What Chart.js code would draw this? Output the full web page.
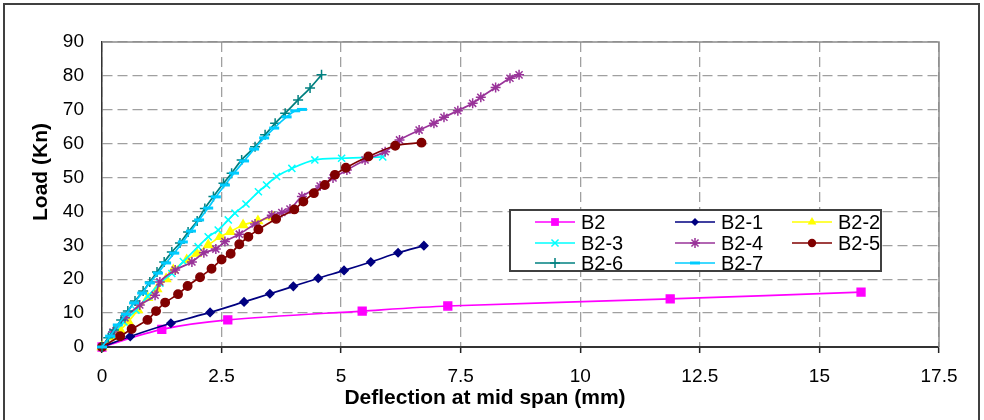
<!DOCTYPE html>
<html>
<head>
<meta charset="utf-8">
<script src="https://cdn.jsdelivr.net/npm/chart.js@4"></script>
<style>
  html, body { margin: 0; padding: 0; background: #fff; }
  #wrap { position: relative; width: 984px; height: 420px; }
</style>
</head>
<body>
<div id="wrap"><canvas id="loadChart" width="984" height="420"></canvas></div>
<script>
// axis ticks
const xTicks = [0, 2.5, 5, 7.5, 10, 12.5, 15, 17.5];
const yTicks = [0, 10, 20, 30, 40, 50, 60, 70, 80, 90];

// deflection (mm) / load (kN) per beam
const b2Defl = [0, 1.25, 2.63, 5.44, 7.23, 11.88, 15.87];
const b2Load = [0, 5.2, 8.0, 10.6, 12.1, 14.2, 16.2];

const b21Defl = [0, 0.59, 1.44, 2.26, 2.97, 3.51, 4.00, 4.52, 5.06, 5.62, 6.19, 6.73];
const b21Load = [0, 3.1, 7.0, 10.2, 13.3, 15.7, 17.9, 20.3, 22.6, 25.1, 27.8, 29.9];

const b22Defl = [0, 0.21, 0.38, 0.55, 0.75, 0.96, 1.15, 1.34, 1.49, 1.77, 1.98, 2.22, 2.47, 2.68, 2.95, 3.26, 3.58];
const b22Load = [0, 3.0, 5.0, 7.5, 10.9, 14.5, 17.1, 20.1, 22.7, 25.7, 27.6, 30.1, 32.5, 34.0, 36.0, 37.2, 38.3];

const b23Defl = [0, 0.21, 0.46, 0.71, 0.96, 1.21, 1.46, 1.70, 2.01, 2.22, 2.43, 2.64, 2.78, 3.01, 3.27, 3.44, 3.65, 3.97, 4.45, 5.01, 5.87];
const b23Load = [0, 3.5, 7.4, 10.9, 15.0, 18.8, 21.7, 25.2, 29.6, 32.5, 34.5, 37.5, 39.5, 42.2, 45.8, 47.8, 50.3, 52.7, 55.2, 55.7, 56.1];

const b24Defl = [0, 0.23, 0.48, 0.79, 1.11, 1.21, 1.53, 1.88, 2.13, 2.38, 2.57, 2.87, 3.20, 3.55, 3.76, 3.93, 4.18, 4.56, 4.83, 5.12, 5.50, 5.92, 6.22, 6.63, 6.94, 7.15, 7.44, 7.75, 7.92, 8.23, 8.53, 8.72];
const b24Load = [0, 4.4, 8.6, 12.4, 15.3, 19.2, 22.7, 25.1, 27.8, 28.9, 31.1, 33.3, 36.3, 38.9, 39.7, 40.7, 44.4, 47.5, 49.9, 52.2, 55.2, 57.6, 61.1, 64.0, 66.0, 67.8, 69.7, 71.9, 73.7, 76.6, 79.3, 80.3];

const b25Defl = [0, 0.38, 0.62, 0.95, 1.13, 1.32, 1.59, 1.79, 2.05, 2.29, 2.50, 2.69, 2.87, 3.06, 3.27, 3.64, 4.02, 4.21, 4.43, 4.66, 4.87, 5.10, 5.57, 6.13, 6.68];
const b25Load = [0, 3.2, 5.3, 8.0, 10.6, 13.1, 15.6, 18.0, 20.6, 23.1, 25.8, 27.5, 30.3, 32.5, 34.7, 37.8, 40.6, 42.9, 45.4, 47.8, 50.8, 52.9, 56.2, 59.4, 60.3];

const b26Defl = [0, 0.13, 0.25, 0.40, 0.54, 0.69, 0.86, 1.00, 1.15, 1.30, 1.46, 1.63, 1.80, 1.99, 2.15, 2.33, 2.54, 2.71, 2.92, 3.20, 3.41, 3.62, 3.83, 4.10, 4.35, 4.59];
const b26Load = [0, 2.7, 5.0, 8.0, 10.6, 13.6, 16.5, 19.2, 22.1, 25.1, 28.0, 30.7, 33.9, 37.2, 40.9, 44.4, 48.3, 51.3, 55.2, 59.1, 62.6, 66.0, 69.0, 72.9, 76.4, 80.3];

const b27Defl = [0, 0.17, 0.33, 0.50, 0.67, 0.84, 1.00, 1.17, 1.34, 1.51, 1.69, 1.86, 2.03, 2.22, 2.38, 2.57, 2.76, 2.97, 3.18, 3.39, 3.60, 3.86, 4.04, 4.18];
const b27Load = [0, 3.2, 6.5, 9.7, 13.0, 15.9, 18.9, 21.8, 24.8, 27.7, 31.0, 34.2, 37.5, 41.0, 44.3, 47.8, 51.3, 54.9, 58.4, 61.7, 64.6, 67.9, 69.7, 70.1];

const FONT = "'Liberation Sans', Arial, sans-serif";

function toPoints(xs, ys) {
  return xs.map((x, i) => ({ x: x, y: ys[i] }));
}

const seriesList = [
  { label: 'B2',   x: b2Defl,  y: b2Load,  color: '#FF00FF', style: 'rect',     radius: 5.5 },
  { label: 'B2-1', x: b21Defl, y: b21Load, color: '#000080', style: 'rectRot',  radius: 4 },
  { label: 'B2-2', x: b22Defl, y: b22Load, color: '#FFFF00', style: 'triangle', radius: 5 },
  { label: 'B2-3', x: b23Defl, y: b23Load, color: '#00FFFF', style: 'crossRot', radius: 5 },
  { label: 'B2-4', x: b24Defl, y: b24Load, color: '#993399', style: 'star',     radius: 5 },
  { label: 'B2-5', x: b25Defl, y: b25Load, color: '#800000', style: 'circle',   radius: 4.2 },
  { label: 'B2-6', x: b26Defl, y: b26Load, color: '#008080', style: 'cross',    radius: 5 },
  { label: 'B2-7', x: b27Defl, y: b27Load, color: '#00CCFF', style: 'line',     radius: 5 }
];

const datasets = seriesList.map((s, i) => ({
  label: s.label,
  data: toPoints(s.x, s.y),
  showLine: true,
  tension: 0.3,
  borderColor: s.color,
  backgroundColor: s.color,
  borderWidth: 1.7,
  pointStyle: s.style,
  pointRadius: s.radius,
  pointBorderColor: s.color,
  pointBackgroundColor: s.color,
  pointBorderWidth: s.style === 'line' ? 3 : 1.5,
  clip: false,
  order: seriesList.length - i
}));

// draws one marker shape, used by the legend box
function drawMarker(ctx, style, r, x, y, color) {
  ctx.save();
  ctx.fillStyle = color;
  ctx.strokeStyle = color;
  ctx.lineWidth = style === 'line' ? 3 : 1.5;
  ctx.beginPath();
  if (style === 'rect') {
    const s = r * Math.SQRT1_2;
    ctx.rect(x - s, y - s, 2 * s, 2 * s);
    ctx.fill();
  } else if (style === 'rectRot') {
    ctx.moveTo(x, y - r); ctx.lineTo(x + r, y); ctx.lineTo(x, y + r); ctx.lineTo(x - r, y);
    ctx.closePath(); ctx.fill();
  } else if (style === 'triangle') {
    ctx.moveTo(x, y - r); ctx.lineTo(x + r * 0.87, y + r * 0.5); ctx.lineTo(x - r * 0.87, y + r * 0.5);
    ctx.closePath(); ctx.fill();
  } else if (style === 'circle') {
    ctx.arc(x, y, r, 0, Math.PI * 2); ctx.fill();
  } else if (style === 'crossRot' || style === 'star') {
    const d = r * Math.SQRT1_2;
    ctx.moveTo(x - d, y - d); ctx.lineTo(x + d, y + d);
    ctx.moveTo(x + d, y - d); ctx.lineTo(x - d, y + d);
    if (style === 'star') { ctx.moveTo(x, y - r); ctx.lineTo(x, y + r); ctx.moveTo(x - r, y); ctx.lineTo(x + r, y); }
    ctx.stroke();
  } else if (style === 'cross') {
    ctx.moveTo(x, y - r); ctx.lineTo(x, y + r); ctx.moveTo(x - r, y); ctx.lineTo(x + r, y);
    ctx.stroke();
  } else if (style === 'line') {
    ctx.moveTo(x - r, y); ctx.lineTo(x + r, y); ctx.stroke();
  }
  ctx.restore();
}

const framePlugin = {
  id: 'frame',
  beforeDraw(chart) {
    const ctx = chart.ctx;
    ctx.save();
    ctx.fillStyle = '#fff';
    ctx.fillRect(0, 0, chart.width, chart.height);
    ctx.strokeStyle = '#404040';
    ctx.lineWidth = 2;
    ctx.strokeRect(4, 4, 975, 440);
    ctx.restore();
  },
  beforeDatasetsDraw(chart) {
    const { ctx, chartArea: a } = chart;
    ctx.save();
    ctx.strokeStyle = '#8a8a8a';
    ctx.lineWidth = 1.5;
    ctx.beginPath();
    ctx.moveTo(a.left, a.top); ctx.lineTo(a.right, a.top); ctx.lineTo(a.right, a.bottom);
    ctx.stroke();
    ctx.restore();
  },
  afterDraw(chart) {
    const ctx = chart.ctx;
    ctx.save();
    // axis titles
    ctx.fillStyle = '#000';
    ctx.font = 'bold 21px ' + FONT;
    ctx.textAlign = 'center';
    ctx.textBaseline = 'middle';
    ctx.fillText('Deflection at mid span (mm)', 485, 398);
    ctx.translate(41, 172);
    ctx.rotate(-Math.PI / 2);
    ctx.fillText('Load (Kn)', 0, 0);
    ctx.restore();

    // legend box inside the plot
    ctx.save();
    ctx.fillStyle = '#fff';
    ctx.fillRect(510, 210, 371, 61);
    ctx.strokeStyle = '#404040';
    ctx.lineWidth = 2;
    ctx.strokeRect(510, 210, 371, 61);
    const colX = [535, 675, 792];
    const rowY = [222, 243, 263];
    ctx.font = '20px ' + FONT;
    ctx.textBaseline = 'middle';
    ctx.textAlign = 'left';
    seriesList.forEach((s, i) => {
      const x = colX[i % 3];
      const y = rowY[Math.floor(i / 3)];
      ctx.strokeStyle = s.color;
      ctx.lineWidth = 1.7;
      ctx.beginPath();
      ctx.moveTo(x, y); ctx.lineTo(x + 40, y);
      ctx.stroke();
      drawMarker(ctx, s.style, s.radius, x + 20, y, s.color);
      ctx.fillStyle = '#000';
      ctx.fillText(s.label, x + 46, y + 1);
    });
    ctx.restore();
  }
};

new Chart(document.getElementById('loadChart'), {
  type: 'scatter',
  data: { datasets: datasets },
  options: {
    responsive: false,
    animation: false,
    devicePixelRatio: 1,
    layout: { padding: { top: 42, right: 45, bottom: 0, left: 0 } },
    plugins: { legend: { display: false }, tooltip: { enabled: false } },
    scales: {
      x: {
        type: 'linear',
        min: 0,
        max: 17.5,
        afterBuildTicks: (scale) => { scale.ticks = xTicks.map(v => ({ value: v })); },
        afterFit: (scale) => { scale.height = 73; },
        ticks: { color: '#000', padding: 12, font: { family: FONT, size: 19 }, callback: v => String(v), maxRotation: 0 },
        grid: { color: '#a0a0a0', lineWidth: 1.3, tickColor: '#222', tickLength: 6, tickWidth: 1.5 },
        border: { color: '#333', width: 2, dash: [10, 5] }
      },
      y: {
        type: 'linear',
        min: 0,
        max: 90,
        afterBuildTicks: (scale) => { scale.ticks = yTicks.map(v => ({ value: v })); },
        afterFit: (scale) => { scale.width = 102; },
        ticks: { color: '#000', padding: 18, font: { family: FONT, size: 19 }, callback: v => String(v) },
        grid: { color: '#a0a0a0', lineWidth: 1.3, drawTicks: false },
        border: { color: '#333', width: 1.5, dash: [10, 5] }
      }
    }
  },
  plugins: [framePlugin]
});
</script>
</body>
</html>
